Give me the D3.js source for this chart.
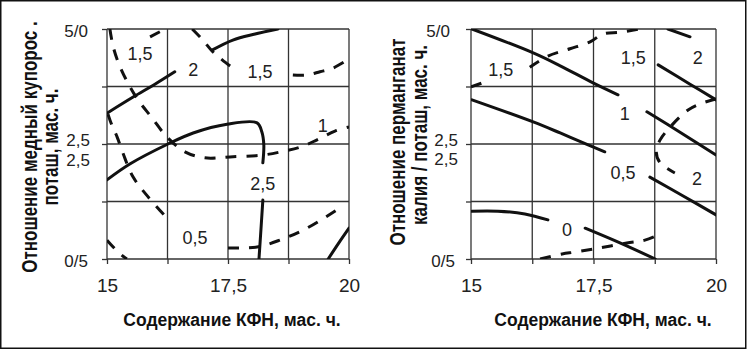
<!DOCTYPE html>
<html>
<head>
<meta charset="utf-8">
<script src="https://cdn.jsdelivr.net/npm/d3@7"></script>
<style>
  body { margin: 0; background: #fff; }
  svg { display: block; font-family: Arial, 'Liberation Sans', sans-serif; }
</style>
</head>
<body>
<svg id="chart" width="747" height="350"></svg>
<script>
// grid / ticks
var xGrid = [15, 16.25, 17.5, 18.75, 20]
var yGrid = [0, 1.25, 2.5, 3.75, 5]
var xTickVals = [15, 17.5, 20]
var xTickText = ['15', '17,5', '20']
var yTickVals = [5, 2.5, 2.5, 0]
var yTickText = ['5/0', '2,5', '2,5', '0/5']

var xTitle = 'Содержание КФН, мас. ч.'
var leftTitle = ['Отношение медный купорос .', 'поташ, мас. ч.']
var rightTitle = ['Отношение перманганат', 'калия / поташ, мас. ч.']

// left panel contours [КФН, ratio]
var leftSolid = [
  [[15, 3.17], [15.54, 3.52], [15.99, 3.8], [16.4, 4.07]],
  [[17.17, 4.54], [17.6, 4.76], [18.06, 4.89], [18.53, 5]],
  [[15, 1.72], [15.48, 2.07], [16.26, 2.5], [16.78, 2.74], [17.48, 2.93], [18.1, 2.96],
   [18.2, 2.76], [18.24, 2.48], [18.22, 2.09]],
  [[18.22, 1.28], [18.18, 0.63], [18.14, 0]],
  [[20, 0.67], [19.79, 0.35], [19.57, 0]]
]
var leftDashed = [
  [[15.06, 5], [15.12, 4.65], [15.23, 4.28], [15.41, 3.87], [15.64, 3.46], [15.93, 3.07],
   [16.24, 2.65], [16.61, 2.33], [17.02, 2.2], [17.54, 2.22], [18.22, 2.26], [18.68, 2.35],
   [18.99, 2.43], [19.34, 2.59], [19.71, 2.78], [20, 2.87]],
  [[15.89, 4.83], [16.2, 5]],
  [[16.76, 5], [16.98, 4.76], [17.19, 4.5], [17.38, 4.33], [17.6, 4.15]],
  [[18.84, 4], [19.13, 4], [19.4, 4.07], [19.67, 4.15], [20, 4.35]],
  [[15.02, 3.15], [15.1, 2.91], [15.21, 2.65], [15.33, 2.3], [15.54, 1.78], [15.85, 1.35], [16.24, 0.89]],
  [[17.5, 0.24], [18.1, 0.26], [18.57, 0.41], [19.13, 0.67], [19.81, 1.11]],
  [[15, 0.41], [15.23, 0.15], [15.41, 0]]
]
var leftLabels = [
  { x: 15.68, y: 4.46, t: '1,5' },
  { x: 16.78, y: 4.11, t: '2' },
  { x: 18.16, y: 4.07, t: '1,5' },
  { x: 19.46, y: 2.91, t: '1' },
  { x: 18.22, y: 1.65, t: '2,5' },
  { x: 16.82, y: 0.46, t: '0,5' }
]

// right panel contours
var rightSolid = [
  [[15.02, 5], [16.27, 4.48], [16.82, 4.2], [17.49, 3.83], [18, 3.57]],
  [[15.02, 3.46], [16.27, 2.98], [16.82, 2.74], [17.39, 2.48], [17.73, 2.33]],
  [[15.02, 1.04], [15.55, 1.04], [16.1, 0.98], [16.57, 0.85]],
  [[17.33, 0.67], [18.04, 0.35], [18.76, 0]],
  [[18.65, 1.78], [19.33, 1.37], [20, 0.96]],
  [[18.59, 3.2], [19.29, 2.74], [20, 2.26]],
  [[18.82, 4.22], [19.47, 3.8], [20, 3.46]],
  [[19.02, 5], [19.47, 4.83]]
]
var rightDashed = [
  [[15, 3.74], [15.29, 3.85]],
  [[16.2, 4.17], [16.57, 4.41], [17.02, 4.57], [17.43, 4.72], [17.69, 4.89], [18.04, 4.93], [18.45, 5]],
  [[20, 3.48], [19.67, 3.37], [19.43, 3.24], [19.1, 2.91], [18.86, 2.59], [18.78, 2.33],
   [18.86, 2.09], [19.16, 1.87]],
  [[16.41, 0], [16.86, 0.11], [17.12, 0.15], [17.63, 0.24], [18.18, 0.35], [18.55, 0.41], [18.86, 0.54]]
]
var rightLabels = [
  { x: 15.61, y: 4.13, t: '1,5' },
  { x: 18.31, y: 4.37, t: '1,5' },
  { x: 19.63, y: 4.39, t: '2' },
  { x: 18.14, y: 3.17, t: '1' },
  { x: 18.1, y: 1.89, t: '0,5' },
  { x: 19.61, y: 1.74, t: '2' },
  { x: 16.96, y: 0.65, t: '0' }
]

var svg = d3.select('#chart')

// outer frame
svg
  .append('rect')
  .attr('x', 0.75)
  .attr('y', 0.75)
  .attr('width', 745)
  .attr('height', 347.5)
  .attr('fill', 'none')
  .attr('stroke', '#111')
  .attr('stroke-width', 1.5)

var panels = [
  {
    id: 'l', left: 107, right: 349, solid: leftSolid, dashed: leftDashed, labels: leftLabels,
    title: leftTitle, titleX: [37, 58], titleY: [147, 147],
    tickEnd: [88, 90, 90, 88], tickDy: [8, 2, 22, 8], xTitleX: 232
  },
  {
    id: 'r', left: 471, right: 716, solid: rightSolid, dashed: rightDashed, labels: rightLabels,
    title: rightTitle, titleX: [405, 427], titleY: [142, 135],
    tickEnd: [450, 458, 458, 455], tickDy: [8, 2, 21, 8], xTitleX: 603
  }
]

panels.forEach(drawPanel)

function drawPanel(p) {
  var xScale = d3.scaleLinear().domain([15, 20]).range([p.left, p.right])
  var yScale = d3.scaleLinear().domain([0, 5]).range([259, 29])

  var g = svg.append('g')

  g.append('clipPath')
    .attr('id', 'clip-' + p.id)
    .append('rect')
    .attr('x', p.left)
    .attr('y', 29)
    .attr('width', p.right - p.left)
    .attr('height', 230)

  // grid
  g.selectAll('.vgrid')
    .data(xGrid)
    .enter()
    .append('line')
    .attr('x1', d => xScale(d))
    .attr('x2', d => xScale(d))
    .attr('y1', yScale(0))
    .attr('y2', yScale(5))
    .attr('stroke', '#333')
    .attr('stroke-width', 1.3)

  g.selectAll('.hgrid')
    .data(yGrid)
    .enter()
    .append('line')
    .attr('x1', xScale(15))
    .attr('x2', xScale(20))
    .attr('y1', d => yScale(d))
    .attr('y2', d => yScale(d))
    .attr('stroke', '#333')
    .attr('stroke-width', 1.3)

  // axes (ticks only, grid draws the frame)
  var xAxis = d3
    .axisBottom(xScale)
    .tickValues(xGrid)
    .tickSize(5)
    .tickPadding(15)
    .tickFormat(d => {
      var i = xTickVals.indexOf(d)
      return i < 0 ? '' : xTickText[i]
    })

  var xg = g.append('g').attr('transform', 'translate(0,259)').call(xAxis)
  xg.select('.domain').remove()
  xg.selectAll('line').attr('stroke', '#333').attr('stroke-width', 1.3)
  xg.selectAll('text')
    .attr('font-size', 19)
    .attr('font-family', 'Arial, Liberation Sans, sans-serif')
    .attr('fill', '#222')

  var yAxis = d3.axisLeft(yScale).tickValues(yGrid).tickSize(5).tickFormat('')
  var yg = g.append('g').attr('transform', 'translate(' + p.left + ',0)').call(yAxis)
  yg.select('.domain').remove()
  yg.selectAll('line').attr('stroke', '#333').attr('stroke-width', 1.3)

  g.selectAll('.ytick-label')
    .data(yTickVals)
    .enter()
    .append('text')
    .attr('x', (d, i) => p.tickEnd[i])
    .attr('y', (d, i) => yScale(d) + p.tickDy[i])
    .attr('text-anchor', 'end')
    .attr('font-size', 17)
    .attr('fill', '#222')
    .text((d, i) => yTickText[i])

  // contours
  var line = d3
    .line()
    .x(d => xScale(d[0]))
    .y(d => yScale(d[1]))
    .curve(d3.curveCatmullRom.alpha(0.5))

  var cg = g.append('g').attr('clip-path', 'url(#clip-' + p.id + ')')

  cg.selectAll('.solid')
    .data(p.solid)
    .enter()
    .append('path')
    .attr('d', line)
    .attr('fill', 'none')
    .attr('stroke', '#111')
    .attr('stroke-width', 3)
    .attr('stroke-linecap', 'round')

  cg.selectAll('.dashed')
    .data(p.dashed)
    .enter()
    .append('path')
    .attr('d', line)
    .attr('fill', 'none')
    .attr('stroke', '#111')
    .attr('stroke-width', 3)
    .attr('stroke-dasharray', '11,10')

  g.selectAll('.clabel')
    .data(p.labels)
    .enter()
    .append('text')
    .attr('x', d => xScale(d.x))
    .attr('y', d => yScale(d.y))
    .attr('dy', '0.36em')
    .attr('text-anchor', 'middle')
    .attr('font-size', 18)
    .attr('fill', '#222')
    .text(d => d.t)

  // titles
  g.append('text')
    .attr('x', p.xTitleX)
    .attr('y', 326)
    .attr('text-anchor', 'middle')
    .attr('font-size', 17.5)
    .attr('font-weight', 'bold')
    .attr('fill', '#111')
    .text(xTitle)

  p.title.forEach((t, i) => {
    g.append('text')
      .attr('transform', 'translate(' + p.titleX[i] + ',' + p.titleY[i] + ') rotate(-90) scale(1,1.3)')
      .attr('text-anchor', 'middle')
      .attr('font-size', 17)
      .attr('font-weight', 'bold')
      .attr('fill', '#111')
      .text(t)
  })
}
</script>
</body>
</html>
